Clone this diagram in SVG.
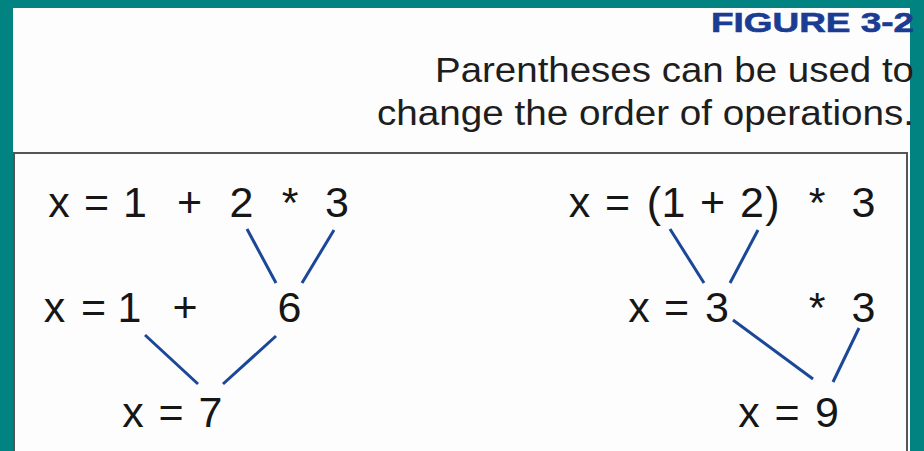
<svg xmlns="http://www.w3.org/2000/svg" width="924" height="451" viewBox="0 0 924 451">
<style>
.expr{font-family:"Liberation Sans",Arial,sans-serif;font-size:43px;fill:#161616;text-anchor:middle}
.head{font-family:"Liberation Sans",Arial,sans-serif;fill:#1e1e1e}
.fig{font-family:"Liberation Sans",Arial,sans-serif;font-weight:bold;fill:#1b3c93}
.edge{stroke:#1a4797;stroke-width:3;stroke-linecap:butt;fill:none}
</style>
<rect x="0" y="0" width="924" height="451" fill="#008381"/>
<rect x="13" y="8" width="897" height="443" fill="#fdfdfd"/>
<g id="header">
<text class="fig" x="711" y="32" font-size="27" textLength="203" lengthAdjust="spacingAndGlyphs" stroke="#1b3c93" stroke-width="0.6">FIGURE 3-2</text>
<text class="head" x="435" y="82" font-size="34.5" textLength="479" lengthAdjust="spacingAndGlyphs">Parentheses can be used to</text>
<text class="head" x="377" y="125" font-size="34.5" textLength="537" lengthAdjust="spacingAndGlyphs">change the order of operations.</text>
</g>
<rect x="14" y="153" width="893" height="310" fill="#fdfdfd" stroke="#555" stroke-width="2"/>
<g id="connectors">
<line class="edge" x1="247" y1="229" x2="276" y2="283"/>
<line class="edge" x1="334" y1="230" x2="302" y2="283"/>
<line class="edge" x1="145" y1="335" x2="198" y2="384"/>
<line class="edge" x1="276" y1="336" x2="223" y2="384"/>
<line class="edge" x1="670" y1="229" x2="704" y2="283"/>
<line class="edge" x1="758" y1="230" x2="730" y2="283"/>
<line class="edge" x1="733" y1="320" x2="813" y2="379"/>
<line class="edge" x1="859" y1="328" x2="833" y2="382"/>
</g>
<g id="left-row1"><text class="expr" y="217"><tspan x="59">x</tspan><tspan x="96.5">=</tspan><tspan x="135">1</tspan><tspan x="189.5">+</tspan><tspan x="241.5">2</tspan><tspan x="290">*</tspan><tspan x="337">3</tspan></text></g>
<g id="left-row2"><text class="expr" y="322"><tspan x="54.5">x</tspan><tspan x="93.5">=</tspan><tspan x="129.5">1</tspan><tspan x="185">+</tspan><tspan x="289.5">6</tspan></text></g>
<g id="left-row3"><text class="expr" y="427"><tspan x="133">x</tspan><tspan x="171">=</tspan><tspan x="210.5">7</tspan></text></g>
<g id="right-row1"><text class="expr" y="217"><tspan x="579.5">x</tspan><tspan x="617.5">=</tspan><tspan x="654">(</tspan><tspan x="673.5">1</tspan><tspan x="712.5">+</tspan><tspan x="752">2</tspan><tspan x="772.5">)</tspan><tspan x="817">*</tspan><tspan x="863.5">3</tspan></text></g>
<g id="right-row2"><text class="expr" y="322"><tspan x="639">x</tspan><tspan x="676.5">=</tspan><tspan x="717">3</tspan><tspan x="817">*</tspan><tspan x="863.5">3</tspan></text></g>
<g id="right-row3"><text class="expr" y="427"><tspan x="749">x</tspan><tspan x="787">=</tspan><tspan x="827">9</tspan></text></g>
</svg>
